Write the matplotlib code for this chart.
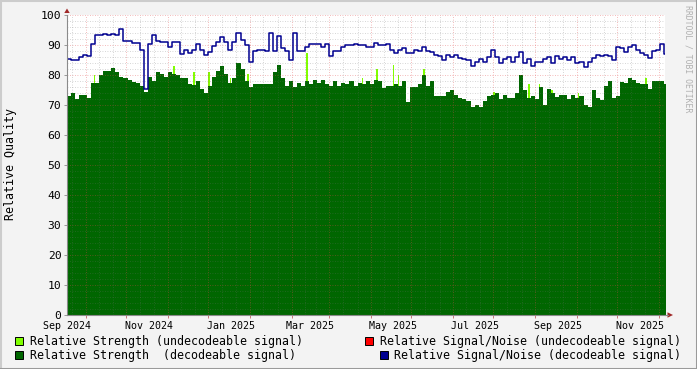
import numpy as np
import matplotlib
matplotlib.use('Agg')
from matplotlib import pyplot
from matplotlib.patches import Rectangle, Polygon


### data (one sample every 3 days from 2024-09-01)
start     = np.datetime64('2024-09-01')
end       = np.datetime64('2025-11-19T14')
step_days = 3

snr_decoded = [
	85.5, 85, 85, 86, 86.7, 86.3, 90.5, 93.3, 93.3, 93.7, 93.3, 93.7, 93.3, 95.5, 91.4, 91.4, 90.8, 90.8, 88.5, 75.5, 90.3, 93.5, 91.4, 91.1, 91.1,
	89.5, 91, 91, 87, 88.5, 87.2, 88.3, 90.5, 88.3, 86.7, 87.8, 89.7, 91.1, 92.8, 91, 88.5, 91, 93.9, 91.7, 90, 84.5, 88, 88.5, 88.5, 88,
	94, 88, 93, 89, 88, 85, 94, 88, 88, 89.3, 90.5, 90.5, 90.5, 89.4, 90.5, 86.5, 88, 88, 89.4, 90, 90, 90.5, 90, 90, 89.5,
	89.4, 90.8, 90, 90, 90.5, 88.5, 87.2, 88.5, 88.9, 87.2, 87.5, 88.5, 88, 89.5, 88, 87.8, 86.7, 86.2, 85, 86.7, 86, 86.7, 85.6, 85.5, 85,
	83, 84.4, 85.5, 84.4, 86.1, 88.5, 86, 84.1, 85.5, 86.1, 84.5, 86, 87.8, 84, 85.3, 83, 84.4, 84.5, 85.3, 86, 84, 86.5, 85.5, 86,
	85, 86.1, 84, 84.4, 82.7, 84.4, 85.8, 86.7, 86.5, 86.7, 86.5, 85, 89.5, 89, 87.8, 89.4, 90, 88.3, 87.2, 86.7, 85.6, 88, 88.5, 90.5, 86.9]

strength_decoded = [
	73, 74, 72, 73.5, 73.5, 72.5, 77.5, 77.5, 80, 81.5, 81.5, 82.5, 81, 79.5, 79, 78.5, 77.8, 77.2, 76.5, 74.5, 79.5, 78, 81, 80.5, 79.4,
	81, 80.5, 80, 79, 79, 77, 76.7, 78, 75.5, 74, 76.5, 79.5, 81.5, 83, 80.5, 77.5, 79, 84, 82, 78, 76, 77, 77, 77, 77,
	77, 81, 83.5, 79, 76.5, 78, 76, 77.5, 76.5, 78, 77, 78.5, 77.5, 78.5, 77, 76.5, 78, 76.5, 77.5, 77, 78, 76.5, 77.5, 77, 78,
	77, 78.5, 78, 75.6, 76.5, 76.5, 77, 76.5, 78, 71, 76, 76, 77, 80, 76.5, 78, 73, 73, 73, 74.5, 75, 73.5, 72.5, 72, 71.5,
	69.5, 70, 69.4, 71.5, 73, 73.3, 74, 72, 73.3, 72.2, 72.5, 74, 80, 75, 72.5, 73, 72, 76, 70, 75.5, 74, 72.8, 73.5, 73.5,
	72, 73.3, 72.5, 73, 70, 69.5, 75, 72.5, 71.7, 76.5, 78, 72.5, 73, 77.8, 77.5, 79, 78.5, 77.5, 77, 77, 75.5, 78, 78, 78, 77]

### days where the undecodeable strength pokes out above the decodeable one
weak_days = ['2024-09-06', '2024-09-21', '2024-11-03', '2024-11-19', '2024-12-04', '2024-12-15',
			 '2024-12-31', '2025-01-13', '2025-02-26', '2025-04-08', '2025-04-19', '2025-05-01',
			 '2025-05-05', '2025-05-24', '2025-07-15', '2025-08-10', '2025-08-18', '2025-08-27',
			 '2025-09-16', '2025-11-05']
weak_strength = [74, 80, 76.5, 83, 81, 81, 79, 80.5, 87.5, 79, 82, 83.5, 80, 82, 74.5, 77, 77, 75, 74, 79]

month_labels = ['Sep 2024', 'Nov 2024', 'Jan 2025', 'Mar 2025', 'May 2025', 'Jul 2025', 'Sep 2025', 'Nov 2025']
label_months = ['2024-09-01', '2024-11-01', '2025-01-01', '2025-03-01', '2025-05-01', '2025-07-01', '2025-09-01', '2025-11-01']


### figure setup
W, H = 697, 369
mono = 'DejaVu Sans Mono'
pyplot.rcParams.update({'font.family': mono, 'font.size': 8})

c_weak   = '#80ff00'
c_strong = '#006600'
c_snr_bad = '#ff0000'
c_snr    = '#000090'
c_major  = '#e04848'
c_minor  = '#707070'

fig = pyplot.figure(figsize=(W/100, H/100), dpi=100, facecolor='#f3f3f3')
ax  = fig.add_axes([67/W, 1-315/H, 598/W, 300/H])
ax.set_facecolor('white')

step = np.timedelta64(step_days, 'D')
dates = start + np.arange(len(snr_decoded)) * step
edges = np.append(dates, dates[-1] + step)

### undecodeable strength (only visible where it is higher)
wd = np.array(weak_days, dtype='datetime64[D]')
ax.bar(wd, weak_strength, width=1.0, align='edge', color=c_weak, linewidth=0, zorder=1)

### decodeable strength
ax.fill_between(edges, np.append(strength_decoded, strength_decoded[-1]), 0,
				step='post', color=c_strong, linewidth=0, zorder=2)

### decodeable signal / noise
ax.step(edges, np.append(snr_decoded, snr_decoded[-1]), where='post',
		color=c_snr, lw=1.1, zorder=4)

### grid (drawn over the data, like rrdtool)
dots = (0, (1, 2))
a_major, a_minor = 0.5, 0.38
for v in range(2, 101, 2):
	if v % 10 == 0:
		ax.axhline(v, color=c_major, lw=0.6, ls=dots, zorder=3, alpha=a_major)
	else:
		ax.axhline(v, color=c_minor, lw=0.6, ls=dots, zorder=3, alpha=a_minor)

months = np.arange(np.datetime64('2024-09'), np.datetime64('2025-12'), np.timedelta64(1, 'M'))
major_x = []
for m in months:
	d = m.astype('datetime64[D]')
	for off, major in ((4, False), (14, True), (24, False)):
		x = d + np.timedelta64(off, 'D')
		if x < end:
			if major:
				ax.axvline(x, color=c_major, lw=0.6, ls=dots, zorder=3, alpha=a_major)
				major_x.append(x)
			else:
				ax.axvline(x, color=c_minor, lw=0.6, ls=dots, zorder=3, alpha=a_minor)

### axes, ticks, labels
ax.set_xlim(start, end)
ax.set_ylim(0, 100)
for s in ('top', 'right'):
	ax.spines[s].set_visible(False)
for s in ('left', 'bottom'):
	ax.spines[s].set_color('#8a8a8a')
	ax.spines[s].set_linewidth(0.8)
	ax.spines[s].set_zorder(5)

ax.set_yticks(range(0, 101, 10))
ax.tick_params(axis='y', length=2.5, width=0.6, color='#8a8a8a', pad=1.5, labelsize=8.2)
ax.set_xticks(np.array(label_months, dtype='datetime64[D]'))
ax.set_xticklabels(month_labels)
ax.tick_params(axis='x', length=0, pad=4.6, labelsize=7.2)
ax.set_xticks(np.array(major_x), minor=True)
ax.tick_params(axis='x', which='minor', length=2, width=0.6, color='#c06060')

fig.text(11/W, 1-164/H, 'Relative Quality', rotation=90, ha='center', va='center', fontsize=8.4)
fig.text(688/W, 1-59/H, 'RRDTOOL / TOBI OETIKER', rotation=270, ha='center', va='center',
		 fontsize=5.9, color='#b0b0b0')

### arrows at axis ends
def fxy(x, y):
	return (x/W, 1-y/H)
arrow_col = '#a02828'
fig.add_artist(Polygon([fxy(64.3, 13), fxy(69.7, 13), fxy(67, 8.5)], closed=True,
					   transform=fig.transFigure, color=arrow_col, lw=0))
fig.add_artist(Polygon([fxy(667.5, 312.3), fxy(667.5, 317.7), fxy(673, 315)], closed=True,
					   transform=fig.transFigure, color=arrow_col, lw=0))
fig.add_artist(pyplot.Line2D([665/W, 668/W], [1-315/H, 1-315/H], transform=fig.transFigure,
							 color='#8a8a8a', lw=0.8))

### legend
def legend_item(x_box, y, color, text, x_text):
	fig.add_artist(Rectangle(fxy(x_box, y+4), 8/W, 8/H, transform=fig.transFigure,
							 facecolor=color, edgecolor='black', lw=0.7))
	fig.text(x_text/W, 1-y/H, text, ha='left', va='center', fontsize=8.4)

legend_item(15, 341, c_weak, 'Relative Strength (undecodeable signal)', 30)
legend_item(15, 355, c_strong, 'Relative Strength  (decodeable signal)', 30)
legend_item(365, 341, c_snr_bad, 'Relative Signal/Noise (undecodeable signal)', 380)
legend_item(379.5, 355, c_snr, 'Relative Signal/Noise (decodeable signal)', 394)

### frame around the image
fig.add_artist(pyplot.Line2D([0, 0, 1], [0, 1, 1], transform=fig.transFigure, color='#cccccc', lw=2.2))
fig.add_artist(pyplot.Line2D([0, 1, 1], [0, 0, 1], transform=fig.transFigure, color='#9a9a9a', lw=2.2))

fig.savefig('out.png', dpi=100, facecolor=fig.get_facecolor())
